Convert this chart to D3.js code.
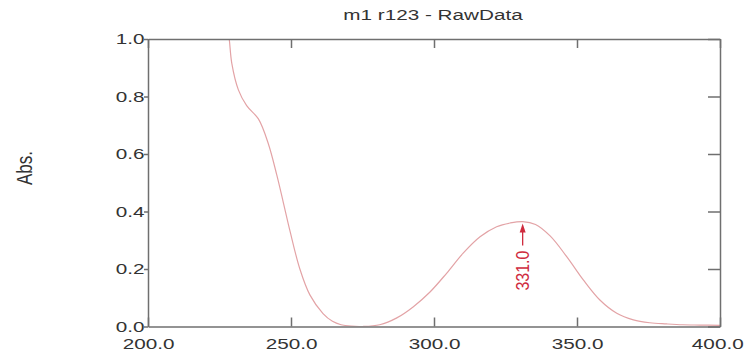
<!DOCTYPE html>
<html>
<head>
<meta charset="utf-8">
<script src="https://cdn.jsdelivr.net/npm/d3@7"></script>
<style>
  body { margin: 0; background: #fff; }
  text { font-family: "Liberation Sans", Arial, sans-serif; }
</style>
</head>
<body>
<div id="chart"></div>
<script>
// spectrum (nm, absorbance)
var wavelength = [227.5, 228.4, 229.3, 231.6, 234.5, 238.6, 242.1, 245.0, 247.3, 249.7,
                  253.1, 256.6, 261.2, 264.5, 267.5, 271.0, 275.0, 281.0, 287.0, 292.8,
                  298.6, 304.4, 310.2, 316.1, 321.9, 326.6, 331.0, 335.5, 340.6, 346.4,
                  352.2, 358.0, 363.9, 369.7, 375.5, 381.3, 387.0, 393.0, 400.0]
var absorbance = [1.06, 1.00, 0.915, 0.823, 0.768, 0.722, 0.635, 0.528, 0.432, 0.330,
                  0.200, 0.110, 0.045, 0.018, 0.006, 0.001, 0.000, 0.006, 0.030, 0.069,
                  0.120, 0.185, 0.255, 0.312, 0.347, 0.360, 0.365, 0.355, 0.315, 0.243,
                  0.162, 0.092, 0.046, 0.023, 0.013, 0.009, 0.006, 0.005, 0.004]
var xTicks = [200, 250, 300, 350, 400]
var yTicks = [0, 0.2, 0.4, 0.6, 0.8, 1.0]
var peakNm = 331.0
var peakAbs = 0.365
var title = "m1 r123 - RawData"
var yLabel = "Abs."

var width = 746, height = 360
var mLeft = 148, mRight = 720, mTop = 39, mBottom = 326.5
var stretch = 1.38

var svg = d3.select("#chart").append("svg")
            .attr("width", width)
            .attr("height", height)

var x = d3.scaleLinear().domain([200, 400]).range([mLeft, mRight])
var y = d3.scaleLinear().domain([0, 1]).range([mBottom, mTop])

svg.append("clipPath").attr("id", "plot")
   .append("rect")
   .attr("x", mLeft).attr("y", mTop)
   .attr("width", mRight - mLeft).attr("height", mBottom - mTop)

var data = wavelength.map(function (w, i) { return [w, absorbance[i]] })

var line = d3.line()
             .x(function (d) { return x(d[0]) })
             .y(function (d) { return y(d[1]) })
             .curve(d3.curveCatmullRom.alpha(0.5))

svg.append("path")
   .datum(data)
   .attr("clip-path", "url(#plot)")
   .attr("fill", "none")
   .attr("stroke", "#e3a3a6")
   .attr("stroke-width", 1.2)
   .attr("d", line)

// axes: labels bottom/left, inward ticks on the other sides
var gx = svg.append("g")
            .attr("transform", "translate(0," + mBottom + ")")
            .call(d3.axisBottom(x).tickValues(xTicks).tickSizeInner(-9).tickSizeOuter(0)
                    .tickPadding(12).tickFormat(d3.format(".1f")))
gx.selectAll("text").attr("transform", "scale(" + stretch + ",1)")
gx.selectAll(".tick:last-of-type text").attr("x", -2)

var gy = svg.append("g")
            .attr("transform", "translate(" + mLeft + ",0)")
            .call(d3.axisLeft(y).tickValues(yTicks).tickSizeInner(4).tickSizeOuter(0)
                    .tickFormat(d3.format(".1f")))
gy.selectAll("text").attr("x", -2.5).attr("transform", "scale(" + stretch + ",1)")

svg.append("g")
   .attr("transform", "translate(0," + mTop + ")")
   .call(d3.axisTop(x).tickValues(xTicks).tickSizeInner(-9).tickSizeOuter(0).tickFormat(""))

svg.append("g")
   .attr("transform", "translate(" + mRight + ",0)")
   .call(d3.axisRight(y).tickValues(yTicks).tickSizeInner(-12).tickSizeOuter(0).tickFormat(""))

svg.selectAll(".domain, .tick line")
   .attr("stroke", "#6f6f6f")
   .attr("stroke-width", 1.5)
svg.selectAll(".tick text")
   .attr("fill", "#333")
   .style("font-size", "15px")

// title and y label
svg.append("text")
   .attr("transform", "translate(433,20) scale(" + stretch + ",1)")
   .attr("text-anchor", "middle")
   .attr("fill", "#333")
   .style("font-size", "15px")
   .text(title)

svg.append("text")
   .attr("transform", "translate(24,168) scale(1.3,1) rotate(-90)")
   .attr("text-anchor", "middle")
   .attr("dy", "0.35em")
   .attr("fill", "#333")
   .style("font-size", "17px")
   .text(yLabel)

// peak marker
var px = x(peakNm), py = y(peakAbs) + 2
svg.append("line")
   .attr("x1", px).attr("x2", px)
   .attr("y1", py + 6).attr("y2", py + 22)
   .attr("stroke", "#cf2b3e")
   .attr("stroke-width", 1.3)
svg.append("path")
   .attr("d", "M" + px + "," + py + "l-3,9h6z")
   .attr("fill", "#cf2b3e")

svg.append("text")
   .attr("transform", "translate(" + (px + 6) + "," + (py + 27) + ") scale(1.2,1) rotate(-90)")
   .attr("text-anchor", "end")
   .attr("fill", "#cf2b3e")
   .style("font-size", "16px")
   .text(peakNm.toFixed(1))
</script>
</body>
</html>
